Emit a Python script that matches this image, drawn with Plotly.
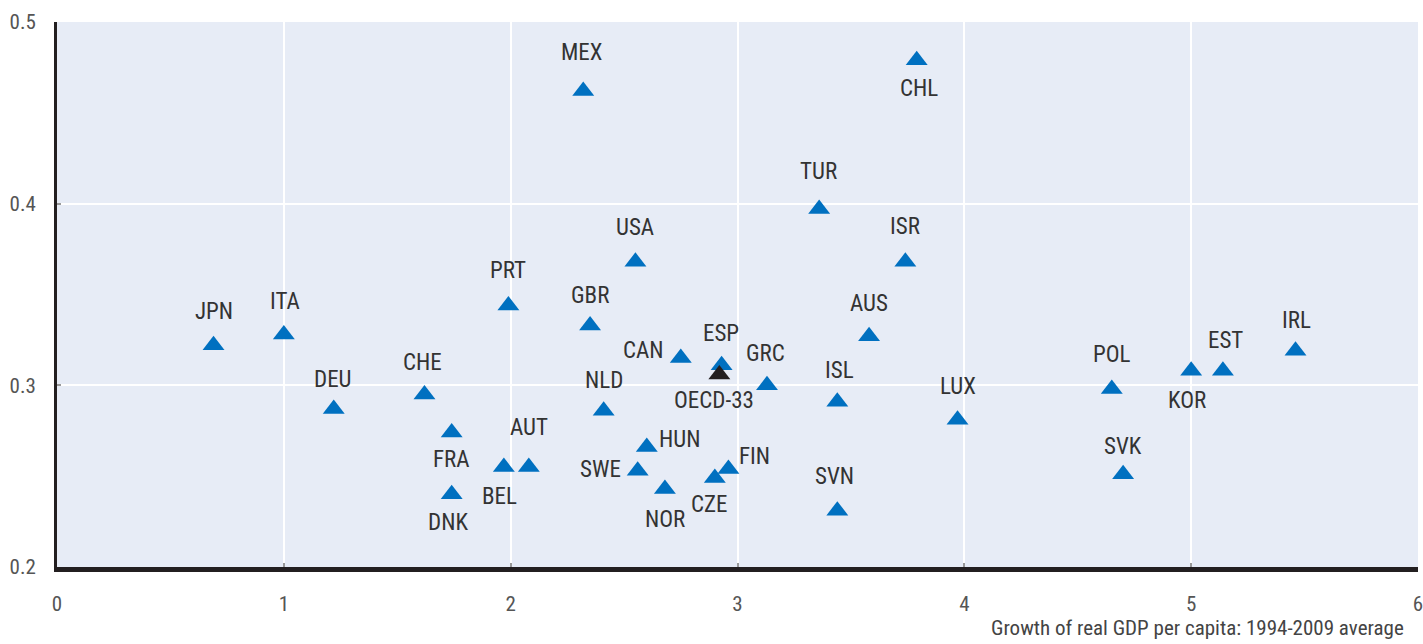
import plotly.graph_objects as go

# ---------------- data ----------------
countries = ["JPN", "ITA", "DEU", "CHE", "FRA", "DNK", "BEL", "AUT", "PRT", "GBR",
             "MEX", "USA", "NLD", "CAN", "ESP", "HUN", "SWE", "NOR", "CZE", "FIN",
             "GRC", "TUR", "CHL", "ISR", "AUS", "ISL", "SVN", "LUX", "POL", "SVK",
             "KOR", "EST", "IRL"]
gdp_growth = [0.69, 1.00, 1.22, 1.62, 1.74, 1.74, 1.97, 2.08, 1.99, 2.35,
              2.32, 2.55, 2.41, 2.75, 2.93, 2.60, 2.56, 2.68, 2.90, 2.96,
              3.13, 3.36, 3.79, 3.74, 3.58, 3.44, 3.44, 3.97, 4.65, 4.70,
              5.00, 5.14, 5.46]
y_values = [0.322, 0.328, 0.287, 0.295, 0.274, 0.240, 0.255, 0.255, 0.344, 0.333,
            0.462, 0.368, 0.286, 0.315, 0.311, 0.266, 0.253, 0.243, 0.249, 0.254,
            0.300, 0.397, 0.479, 0.368, 0.327, 0.291, 0.231, 0.281, 0.298, 0.251,
            0.308, 0.308, 0.319]

oecd_label = ["OECD-33"]
oecd_growth = [2.92]
oecd_y = [0.306]

x_ticks = [0, 1, 2, 3, 4, 5, 6]
y_ticks = [0.2, 0.3, 0.4, 0.5]
x_title = "Growth of real GDP per capita: 1994-2009 average"

# ---------------- label placement (pixels, styling) ----------------
label_dx = [0, 1, -1, -2, 0, -4, -4, 0, 0, 0,
            -1, 0, 0, -37, -1, 33, -37, 0, -5, 26,
            -1, -1, 2, 0, 0, 2, -3, 0, 0, 0,
            -4, 3, 1]
label_dy = [34, 33, 29, 32, -27, -28, -29, 40, 35, 30,
            39, 34, 30, 8, 32, 8, 1, -31, -27, 12,
            32, 38, -28, 35, 33, 31, 34, 33, 34, 28,
            -30, 30, 30]
oecd_dx = [-5]
oecd_dy = [-26]

FONT = "Roboto Condensed, Liberation Sans Narrow, Arial Narrow, Liberation Sans, sans-serif"
BLUE = "#0070c0"

fig = go.Figure()
fig.add_trace(go.Scatter(
    x=gdp_growth, y=y_values, mode="markers", text=countries,
    marker=dict(symbol="triangle-up", size=19, color=BLUE),
    hoverinfo="text", showlegend=False,
))
fig.add_trace(go.Scatter(
    x=oecd_growth, y=oecd_y, mode="markers", text=oecd_label,
    marker=dict(symbol="triangle-up", size=19, color="#231f20"),
    hoverinfo="text", showlegend=False,
))

annotations = []
for name, xv, yv, dx, dy in zip(countries + oecd_label, gdp_growth + oecd_growth,
                                y_values + oecd_y, label_dx + oecd_dx, label_dy + oecd_dy):
    annotations.append(dict(
        x=xv, y=yv, xref="x", yref="y", text=name, showarrow=False,
        xshift=dx, yshift=dy, font=dict(family=FONT, size=23, color="#333333"),
        xanchor="center", yanchor="middle",
    ))
annotations.append(dict(
    x=1, y=-0.112, xref="paper", yref="paper", text=x_title, showarrow=False,
    xshift=-12, xanchor="right", yanchor="middle",
    font=dict(family=FONT, size=21, color="#444444"),
))

fig.update_layout(
    width=1423, height=644,
    margin=dict(l=57, r=5, t=22, b=77),
    paper_bgcolor="white", plot_bgcolor="#e7ecf6",
    annotations=annotations,
    font=dict(family=FONT, size=21, color="#555555"),
)
fig.update_xaxes(
    range=[0, 6], tickvals=x_ticks, ticktext=[str(v) for v in x_ticks],
    showgrid=True, gridcolor="white", gridwidth=2, zeroline=False,
    showline=True, linecolor="#231f20", linewidth=5,
    ticks="inside", ticklen=4, tickcolor="#999999", tickwidth=2,
    ticklabelstandoff=14, ticklabeloverflow="allow", automargin=False,
    tickfont=dict(family=FONT, size=21, color="#555555"),
)
fig.update_yaxes(
    range=[0.2, 0.5], tickvals=y_ticks, ticktext=["%.1f" % v for v in y_ticks],
    showgrid=True, gridcolor="white", gridwidth=2, zeroline=False,
    showline=True, linecolor="#231f20", linewidth=3,
    ticks="inside", ticklen=4, tickcolor="#999999", tickwidth=2,
    ticklabelstandoff=14, ticklabeloverflow="allow", automargin=False,
    tickfont=dict(family=FONT, size=21, color="#555555"),
)

fig.write_html("out.html", config={"displayModeBar": False},
               post_script="document.body.style.margin='0';document.body.style.overflow='hidden';")
